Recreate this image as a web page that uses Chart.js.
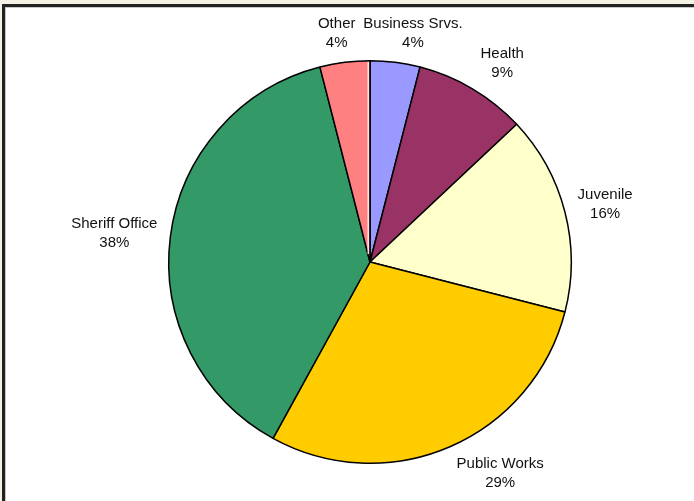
<!DOCTYPE html>
<html>
<head>
<meta charset="utf-8">
<script src="https://cdn.jsdelivr.net/npm/chart.js@4"></script>
<style>
	html, body { margin: 0; padding: 0; }
	body { width: 694px; height: 501px; background: #f4f2e4; position: relative; overflow: hidden; }
	#frame {
		position: absolute; left: 2px; top: 4px; width: 720px; height: 520px;
		background: #fff; border-top: 3px solid #222; border-left: 3px solid #222;
		box-shadow: inset 1px 1px 0 #c8c8c8;
	}
	#chart { position: absolute; left: 0; top: 0; }
</style>
</head>
<body>
<div id="frame"></div>
<canvas id="chart" width="694" height="501"></canvas>
<script>
// departments, clockwise from the top
var departments = ['Business Srvs.', 'Health', 'Juvenile', 'Public Works', 'Sheriff Office', 'Other'];
var shares = [4, 9, 16, 29, 38, 4];
var sliceColors = ['#9999ff', '#993366', '#ffffcc', '#ffcc00', '#339966', '#ff8080'];

var labelFont = '15px "Liberation Sans", Arial, sans-serif';
var lineHeight = 19;

function clamp(v){ return Math.max(-1, Math.min(1, v)); }

// thin white seam where the last slice closes at the top
var closingSeam = {
	id: 'closingSeam',
	afterDatasetsDraw: function(chart){
		var meta = chart.getDatasetMeta(0);
		var last = meta.data[meta.data.length - 1];
		var a = last.endAngle;
		var ctx = chart.ctx;
		var off = 1.8;

		ctx.save();
		ctx.strokeStyle = '#fff';
		ctx.lineWidth = 1.2;
		ctx.beginPath();
		ctx.moveTo(last.x + 8 * Math.cos(a) + off * Math.sin(a), last.y + 8 * Math.sin(a) - off * Math.cos(a));
		ctx.lineTo(last.x + (last.outerRadius - 1) * Math.cos(a) + off * Math.sin(a), last.y + (last.outerRadius - 1) * Math.sin(a) - off * Math.cos(a));
		ctx.stroke();
		ctx.restore();
	}
};

// name + percent written just outside each slice
var outsideLabels = {
	id: 'outsideLabels',
	afterDatasetsDraw: function(chart){
		var ctx = chart.ctx;
		var meta = chart.getDatasetMeta(0);
		var total = shares.reduce(function(a, b){ return a + b; }, 0);

		ctx.save();
		ctx.font = labelFont;
		ctx.fillStyle = '#111';
		ctx.textAlign = 'center';
		ctx.textBaseline = 'middle';

		meta.data.forEach(function(arc, i){
			var mid = (arc.startAngle + arc.endAngle) / 2;
			var r = arc.outerRadius + 10;
			var lines = [departments[i], Math.round(shares[i] / total * 100) + '%'];
			var w = Math.max.apply(null, lines.map(function(t){ return ctx.measureText(t).width; }));
			var h = lines.length * lineHeight;
			var cx = arc.x + r * Math.cos(mid) + clamp(2.5 * Math.cos(mid)) * (w / 2 + 3);
			var cy = arc.y + r * Math.sin(mid) + Math.sin(mid) * h / 2;

			lines.forEach(function(t, n){
				ctx.fillText(t, cx, cy - h / 2 + lineHeight * (n + 0.5));
			});
		});
		ctx.restore();
	}
};

new Chart(document.getElementById('chart').getContext('2d'), {
	type: 'pie',
	data: {
		labels: departments,
		datasets: [{
			data: shares,
			backgroundColor: sliceColors,
			borderColor: '#000',
			borderWidth: 1.5
		}]
	},
	options: {
		responsive: false,
		animation: false,
		layout: { padding: { left: 168, right: 122, top: 59, bottom: 36 } },
		plugins: {
			legend: { display: false },
			tooltip: { enabled: false }
		}
	},
	plugins: [closingSeam, outsideLabels]
});
</script>
</body>
</html>
